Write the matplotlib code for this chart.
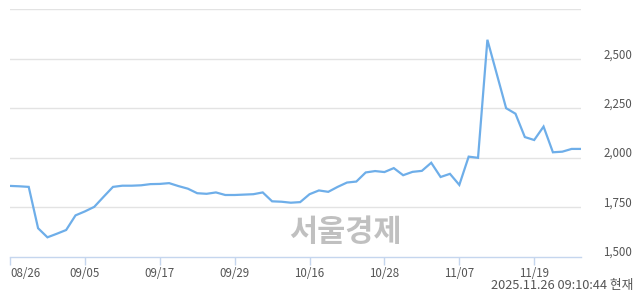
import matplotlib
matplotlib.use("Agg")
import matplotlib.pyplot as plt
from matplotlib.transforms import ScaledTranslation

plt.rcParams['font.family'] = ['Noto Sans CJK KR', 'DejaVu Sans']

# 일별 종가 (08/26 ~ 11/26, 62 거래일)
prices = [
    1857, 1855, 1852, 1643, 1597, 1615, 1634, 1708, 1728, 1751,
    1802, 1852, 1858, 1858, 1860, 1866, 1867, 1871, 1856, 1843,
    1820, 1817, 1824, 1811, 1811, 1813, 1815, 1824, 1779, 1777,
    1772, 1775, 1815, 1834, 1827, 1852, 1874, 1879, 1925, 1932,
    1927, 1947, 1911, 1928, 1933, 1974, 1902, 1918, 1862, 2005,
    1999, 2596, 2423, 2250, 2222, 2104, 2089, 2157, 2027, 2030,
    2044, 2044,
]
tick_idx = [0, 8, 16, 24, 32, 40, 48, 56]
tick_labels = ['08/26', '09/05', '09/17', '09/29', '10/16', '10/28', '11/07', '11/19']
y_ticks = [1500, 1750, 2000, 2250, 2500]
y_labels = ['1,500', '1,750', '2,000', '2,250', '2,500']
grid_levels = [1750, 2000, 2250, 2500, 2750]
stamp = '2025.11.26 09:10:44 현재'

fig = plt.figure(figsize=(6.4, 2.94), dpi=100)
ax = fig.add_axes([10 / 640, 1 - 256.5 / 294, 571 / 640, (256.5 - 9.3) / 294])

for g in grid_levels:
    ax.axhline(g, color='#e3e3e3', linewidth=1.0, zorder=1)

ax.plot(range(len(prices)), prices, color='#6eaee9', linewidth=1.6,
        solid_joinstyle='miter', zorder=3)

ax.set_xlim(0, len(prices) - 1)
ax.set_ylim(1500, 2750)

for s in ['top', 'left', 'right']:
    ax.spines[s].set_visible(False)
ax.spines['bottom'].set_color('#c5d6ee')
ax.spines['bottom'].set_linewidth(1.0)

ax.set_xticks(tick_idx)
ax.set_xticklabels(tick_labels, fontsize=8.3, color='#555555')
ax.tick_params(axis='x', direction='out', length=6, width=1.0,
               color='#c5d6ee', pad=1.5)
# 첫 라벨은 왼쪽 정렬 (잘림 방지)
ax.get_xticklabels()[0].set_horizontalalignment('left')

ax.yaxis.tick_right()
ax.set_yticks(y_ticks)
ax.set_yticklabels(y_labels, fontsize=8.3, color='#555555')
ax.tick_params(axis='y', length=0, pad=16)
for lab in ax.get_yticklabels():
    lab.set_transform(lab.get_transform() + ScaledTranslation(0, 5.5 / 100, fig.dpi_scale_trans))

# 워터마크
fig.text(345 / 640, 1 - 232 / 294, '서울경제', fontsize=22, fontweight='bold',
         color='#c0c0c0', ha='center', va='center', zorder=2)

fig.text(633 / 640, 1 - 286 / 294, stamp, fontsize=9.2, color='#555555',
         ha='right', va='center')

fig.savefig('out.png', dpi=100)
